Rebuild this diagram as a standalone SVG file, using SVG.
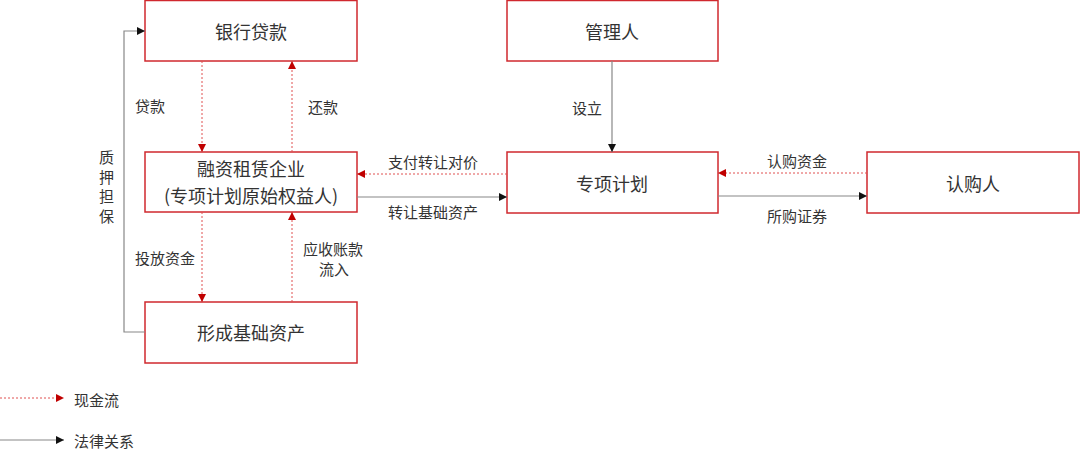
<svg xmlns="http://www.w3.org/2000/svg" width="1080" height="459" viewBox="0 0 1080 459">
<defs>
<marker id="ar" viewBox="0 0 10 10" refX="10" refY="5" markerWidth="8" markerHeight="8" markerUnits="userSpaceOnUse" orient="auto"><path d="M0,0 L10,5 L0,10 z" fill="#c00000"/></marker>
<marker id="ab" viewBox="0 0 10 10" refX="10" refY="5" markerWidth="8" markerHeight="8" markerUnits="userSpaceOnUse" orient="auto"><path d="M0,0 L10,5 L0,10 z" fill="#111"/></marker>
<style>
.box{fill:#fff;stroke:#d0282e;stroke-width:1.5}
.bt{font-family:"Noto Sans CJK SC","Noto Sans",sans-serif;font-size:18px;fill:#333;text-anchor:middle;dominant-baseline:central}
.lb{font-family:"Noto Sans CJK SC","Noto Sans",sans-serif;font-size:15px;fill:#333;dominant-baseline:central}
.cash{fill:none;stroke:#e05050;stroke-width:1;stroke-dasharray:2,2;marker-end:url(#ar)}
.law{fill:none;stroke:#888;stroke-width:1.2;marker-end:url(#ab)}
</style>
</defs>
<g id="bank"><rect class="box" x="145" y="0.5" width="212" height="60.5"/><text class="bt" x="251" y="31">银行贷款</text></g>
<g id="lessor"><rect class="box" x="145" y="152" width="212" height="60"/><text class="bt" x="251" y="168">融资租赁企业</text><text class="bt" x="251" y="195">(专项计划原始权益人)</text></g>
<g id="asset"><rect class="box" x="145" y="302" width="212" height="61"/><text class="bt" x="251" y="332">形成基础资产</text></g>
<g id="manager"><rect class="box" x="507" y="0.5" width="211" height="60.5"/><text class="bt" x="612" y="31">管理人</text></g>
<g id="plan"><rect class="box" x="507" y="152" width="211" height="61"/><text class="bt" x="612" y="183">专项计划</text></g>
<g id="investor"><rect class="box" x="867" y="152" width="212" height="61"/><text class="bt" x="973" y="183">认购人</text></g>
<g id="connectors">
<path class="cash" d="M202,61 V152"/>
<path class="cash" d="M292,152 V61"/>
<path class="cash" d="M202,212 V302"/>
<path class="cash" d="M292,302 V212"/>
<path class="law" d="M145,332 H124 V31 H145"/>
<path class="cash" d="M507,174 H357"/>
<path class="law" d="M357,197 H507"/>
<path class="law" d="M612,61 V152"/>
<path class="cash" d="M867,173 H718"/>
<path class="law" d="M718,196 H867"/>
<path class="cash" d="M0,398 H64"/>
<path class="law" d="M0,440 H64"/>
</g>
<g id="labels">
<text class="lb" x="135" y="105">贷款</text>
<text class="lb" x="308" y="106">还款</text>
<text class="lb" x="99" y="156">质</text>
<text class="lb" x="99" y="176">押</text>
<text class="lb" x="99" y="195">担</text>
<text class="lb" x="99" y="215">保</text>
<text class="lb" x="135" y="257">投放资金</text>
<text class="lb" x="303" y="248">应收账款</text>
<text class="lb" x="319" y="268">流入</text>
<text class="lb" x="388" y="161">支付转让对价</text>
<text class="lb" x="388" y="211">转让基础资产</text>
<text class="lb" x="572" y="107">设立</text>
<text class="lb" x="767" y="160">认购资金</text>
<text class="lb" x="767" y="215">所购证券</text>
<text class="lb" x="74" y="399">现金流</text>
<text class="lb" x="74" y="440">法律关系</text>
</g>
</svg>
